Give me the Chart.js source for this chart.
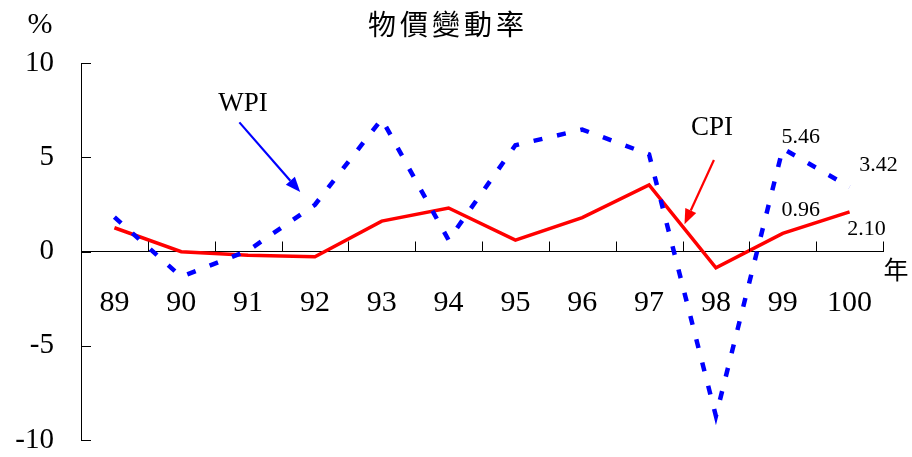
<!DOCTYPE html>
<html><head><meta charset="utf-8">
<script src="https://cdn.jsdelivr.net/npm/chart.js@4/dist/chart.umd.min.js"></script>
<style>html,body{margin:0;padding:0;background:#fff}#wrap{width:912px;height:457px;position:relative}</style>
</head><body><div id="wrap"><canvas id="c" width="912" height="457"></canvas></div>
<script>
const years = ['89','90','91','92','93','94','95','96','97','98','99','100'];
const cpi = [1.26, -0.01, -0.20, -0.28, 1.61, 2.31, 0.60, 1.80, 3.53, -0.87, 0.96, 2.10];
const wpi = [1.82, -1.34, 0.05, 2.48, 7.03, 0.61, 5.64, 6.47, 5.15, -8.73, 5.46, 3.42];
const yTicks = [-10, -5, 0, 5, 10];
const titleText = '物價變動率';
const unitText = '%';
const xUnitText = '年';

const SERIF = '"Liberation Serif", "Times New Roman", serif';
const CJK = '"Noto Sans CJK TC", "Noto Sans CJK SC", sans-serif';

function arrow(ctx, x1, y1, x2, y2, color) {
  const ang = Math.atan2(y2 - y1, x2 - x1);
  const hl = 15, hw = 6;
  const bx = x2 - hl * Math.cos(ang), by = y2 - hl * Math.sin(ang);
  ctx.save();
  ctx.strokeStyle = color; ctx.fillStyle = color; ctx.lineWidth = 2.2;
  ctx.beginPath(); ctx.moveTo(x1, y1); ctx.lineTo(bx, by); ctx.stroke();
  ctx.beginPath();
  ctx.moveTo(x2, y2);
  ctx.lineTo(bx + hw * Math.sin(ang), by - hw * Math.cos(ang));
  ctx.lineTo(bx - hw * Math.sin(ang), by + hw * Math.cos(ang));
  ctx.closePath(); ctx.fill();
  ctx.restore();
}

const overlay = {
  id: 'overlay',
  afterDraw(chart) {
    const ctx = chart.ctx;
    const xs = chart.scales.x, ys = chart.scales.y;
    const ca = chart.chartArea;
    const y0 = ys.getPixelForValue(0);
    ctx.save();
    ctx.strokeStyle = '#000'; ctx.lineWidth = 1;
    yTicks.forEach(v => {
      const y = Math.round(ys.getPixelForValue(v)) + 0.5;
      ctx.beginPath(); ctx.moveTo(ca.left, y); ctx.lineTo(ca.left + 10, y); ctx.stroke();
    });
    for (let i = 1; i <= years.length; i++) {
      const x = Math.round(xs.getPixelForValue(i - 0.5)) + 0.5;
      ctx.beginPath(); ctx.moveTo(x, y0); ctx.lineTo(x, y0 - 10); ctx.stroke();
    }
    const px = (i) => xs.getPixelForValue(i);
    arrow(ctx, px(1.87), ys.getPixelForValue(6.85), px(2.78), ys.getPixelForValue(3.15), '#0000FF');
    arrow(ctx, px(8.97), ys.getPixelForValue(4.85), px(8.53), ys.getPixelForValue(1.45), '#FF0000');

    ctx.fillStyle = '#000';
    ctx.textAlign = 'center'; ctx.textBaseline = 'middle';
    ctx.font = '28px ' + CJK;
    Array.from(titleText).forEach((ch, i) => ctx.fillText(ch, 382 + i * 32, 24));
    ctx.font = '30px ' + SERIF;
    ctx.fillText(unitText, 40, 25);
    ctx.font = '25px ' + CJK;
    ctx.fillText(xUnitText, 896, 269);
    ctx.font = '27px ' + SERIF;
    ctx.fillText('WPI', 243, 104);
    ctx.fillText('CPI', 712, 128);
    ctx.font = '22px ' + SERIF;
    const lab = (arr, i, dx, dy) => {
      ctx.fillText(arr[i].toFixed(2), px(i) + dx, ys.getPixelForValue(arr[i]) + dy);
    };
    lab(wpi, 10, 18, -11);
    lab(wpi, 11, 29, -22);
    lab(cpi, 10, 18, -23);
    lab(cpi, 11, 17, 17);
    ctx.restore();
  }
};

new Chart(document.getElementById('c'), {
  type: 'line',
  data: {
    labels: years,
    datasets: [
      { label: 'WPI', data: wpi, borderColor: '#0000FF', borderWidth: 4.5, borderDash: [9, 15],
        pointRadius: 0, tension: 0, fill: false, borderCapStyle: 'butt' },
      { label: 'CPI', data: cpi, borderColor: '#FF0000', borderWidth: 3.5,
        pointRadius: 0, tension: 0, fill: false, borderJoinStyle: 'miter' }
    ]
  },
  options: {
    responsive: false, animation: false, devicePixelRatio: 1,
    layout: { padding: { left: 0, right: 29, top: 63, bottom: 17 } },
    plugins: { legend: { display: false }, tooltip: { enabled: false }, title: { display: false } },
    scales: {
      x: {
        type: 'category', offset: true, position: { y: 0 },
        afterFit: s => { s.height = 0; s.paddingTop = 0; s.paddingBottom = 0; },
        grid: { display: false, drawTicks: false },
        border: { display: true, color: '#000', width: 1 },
        ticks: { font: { family: SERIF, size: 30 }, color: '#000', padding: 34, maxRotation: 0, autoSkip: false }
      },
      y: {
        min: -10, max: 10,
        afterBuildTicks: s => { s.ticks = yTicks.map(v => ({ value: v })); },
        afterFit: s => { s.width = 81; s.paddingTop = 0; s.paddingBottom = 0; },
        grid: { display: false, drawTicks: false },
        border: { display: true, color: '#000', width: 1 },
        ticks: { font: { family: SERIF, size: 29 }, color: '#000', padding: 27 }
      }
    }
  },
  plugins: [overlay]
});
</script>
</body></html>
